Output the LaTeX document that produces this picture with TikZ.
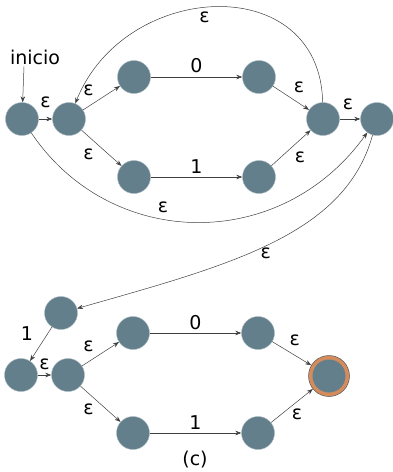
\documentclass[tikz,border=0pt]{standalone}
\usepackage{fontspec}
\setmainfont{DejaVu Sans}
\usetikzlibrary{arrows.meta}
\definecolor{slate}{HTML}{637F8B}
\definecolor{ring}{HTML}{D48C5C}

\begin{document}
\begin{tikzpicture}[x=1pt,y=-1pt,
  st/.style={circle,fill=slate,draw=slate!55,line width=0.4pt,minimum size=33pt,inner sep=0pt},
  fin/.style={circle,fill=ring,draw=black!65,line width=0.5pt,minimum size=41pt,inner sep=0pt,
    path picture={\fill[slate] (path picture bounding box.center) circle (16.5pt);}},
  tr/.style={->,draw=black!75,line width=0.5pt},
  lb/.style={font=\fontsize{19}{22}\selectfont,inner sep=0pt},
  >={Stealth[length=6pt,width=4.5pt]}]
\useasboundingbox (0,0) rectangle (393,472);
% upper automaton
\node[st] (s0) at (22,119) {};
\node[st] (s1) at (69,119) {};
\node[st] (s2) at (134,77) {};
\node[st] (s3) at (259,77) {};
\node[st] (s4) at (134,177) {};
\node[st] (s5) at (259,177) {};
\node[st] (s6) at (323,119) {};
\node[st] (s7) at (377,119) {};
\node[lb] (ini) at (35,57) {inicio};
\draw[tr] (ini.south -| s0) ++(2,2) -- (s0);

\draw[tr] (s0) -- node[lb,shift={(0,-17)}] {ε} (s1);
\draw[tr] (s1) -- node[lb,shift={(-13,-8)}] {ε} (s2);
\draw[tr] (s1) -- node[lb,shift={(-13,6)}] {ε} (s4);
\draw[tr] (s2) -- node[lb,shift={(0,-11)}] {0} (s3);
\draw[tr] (s4) -- node[lb,shift={(0,-10)}] {1} (s5);
\draw[tr] (s3) -- node[lb,shift={(8,-11)}] {ε} (s6);
\draw[tr] (s5) -- node[lb,shift={(9,9)}] {ε} (s6);
\draw[tr] (s6) -- node[lb,shift={(-2,-15)}] {ε} (s7);
\draw[tr] (s6) .. controls (320,-30) and (125,-20) .. node[lb,shift={(-12,10)}] {ε} (s1);
\draw[tr] (s0) .. controls (110,250) and (280,254) .. node[lb,shift={(-33,-15)}] {ε} (s7);

% lower automaton
\node[st] (t0) at (61,313) {};
\node[st] (t1) at (21,375) {};
\node[st] (t2) at (68,375) {};
\node[st] (t3) at (133,333) {};
\node[st] (t4) at (258,333) {};
\node[st] (t5) at (133,433) {};
\node[st] (t6) at (258,433) {};
\node[fin] (t7) at (329,376) {};

\draw[tr] (s7) .. controls (345,235) and (230,265) .. node[lb,shift={(-6,10)}] {ε} (t0);
\draw[tr] (t0) -- node[lb,shift={(-14,-10)}] {1} (t1);
\draw[tr] (t1) -- node[lb,shift={(0,-11)}] {ε} (t2);
\draw[tr] (t2) -- node[lb,shift={(-12,-8)}] {ε} (t3);
\draw[tr] (t2) -- node[lb,shift={(-12,5)}] {ε} (t5);
\draw[tr] (t3) -- node[lb,shift={(0,-10)}] {0} (t4);
\draw[tr] (t5) -- node[lb,shift={(0,-10)}] {1} (t6);
\draw[tr] (t4) -- node[lb,shift={(3,-13)}] {ε} (t7);
\draw[tr] (t6) -- node[lb,shift={(5,9)}] {ε} (t7);

\node[lb] (cap) at (195,460) {(c)};
\end{tikzpicture}
\end{document}
